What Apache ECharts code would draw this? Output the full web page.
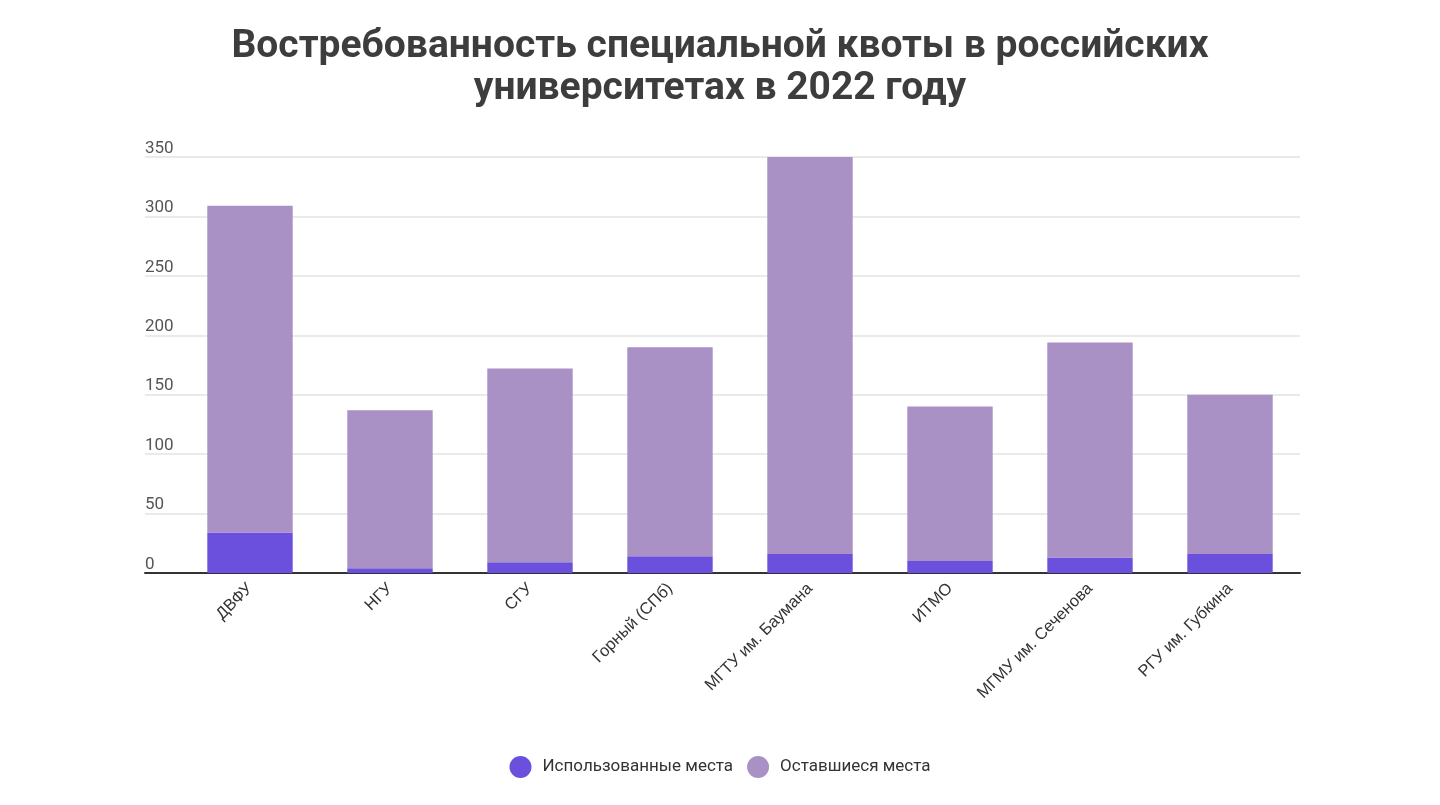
<!DOCTYPE html>
<html>
<head>
<meta charset="utf-8">
<script src="https://cdn.jsdelivr.net/npm/echarts@6/dist/echarts.min.js"></script>
<style>
  html, body { margin: 0; padding: 0; background: #fff; }
  #chart { width: 1440px; height: 805px; }
</style>
</head>
<body>
<div id="chart"></div>
<script>
var universities = ['ДВФУ', 'НГУ', 'СГУ', 'Горный (СПб)', 'МГТУ им. Баумана', 'ИТМО', 'МГМУ им. Сеченова', 'РГУ им. Губкина'];
var totalPlaces = [309, 137, 172, 190, 350, 140, 194, 150];
var usedPlaces = [34, 4, 9, 14, 16, 10, 13, 16];
var leftPlaces = totalPlaces.map(function (t, i) { return t - usedPlaces[i]; });
var yTicks = [0, 50, 100, 150, 200, 250, 300, 350];

var myChart = echarts.init(document.getElementById('chart'));

var option = {
    backgroundColor: '#fff',
    textStyle: { fontFamily: 'Roboto' },
    title: {
        text: 'Востребованность специальной квоты в российских\nуниверситетах в 2022 году',
        left: 'center',
        top: 21,
        textStyle: {
            fontFamily: 'Roboto',
            fontSize: 39,
            fontWeight: 'bold',
            color: '#3d3d3d',
            lineHeight: 42
        }
    },
    legend: {
        bottom: 22,
        left: 'center',
        icon: 'circle',
        itemWidth: 22,
        itemHeight: 22,
        itemGap: 14,
        textStyle: { fontSize: 17, color: '#333', padding: [0, 0, 0, 6] },
        data: ['Использованные места', 'Оставшиеся места']
    },
    grid: [
        // bars
        { left: 180, right: 140, top: 157, bottom: 232 },
        // background grid lines + y labels (wider)
        { left: 145, right: 140, top: 157, bottom: 232 }
    ],
    xAxis: [{
        type: 'category',
        gridIndex: 0,
        data: universities,
        axisLine: { show: false },
        axisTick: { show: false },
        axisLabel: {
            interval: 0,
            rotate: 45,
            margin: 13,
            fontFamily: 'Liberation Sans',
            fontSize: 16.5,
            color: '#333'
        }
    }, {
        type: 'category',
        gridIndex: 1,
        data: [''],
        axisLine: { show: true, lineStyle: { color: '#333', width: 2 } },
        axisTick: { show: false },
        axisLabel: { show: false }
    }],
    yAxis: [{
        type: 'value',
        gridIndex: 0,
        min: 0,
        max: 350,
        interval: 50,
        axisLabel: { show: false },
        axisLine: { show: false },
        axisTick: { show: false },
        splitLine: { show: false }
    }, {
        type: 'value',
        gridIndex: 1,
        min: yTicks[0],
        max: yTicks[yTicks.length - 1],
        interval: 50,
        axisLine: { show: false },
        axisTick: { show: false },
        axisLabel: {
            inside: true,
            margin: 0,
            verticalAlign: 'bottom',
            padding: [0, 0, 0, 0],
            fontSize: 17,
            color: '#555'
        },
        splitLine: { lineStyle: { color: '#e3e3e3', width: 1.5 } }
    }],
    series: [
        {
            name: 'Использованные места',
            type: 'bar',
            stack: 'total',
            xAxisIndex: 0,
            yAxisIndex: 0,
            barWidth: '61%',
            data: usedPlaces,
            itemStyle: { color: '#6a50dc' }
        },
        {
            name: 'Оставшиеся места',
            type: 'bar',
            stack: 'total',
            xAxisIndex: 0,
            yAxisIndex: 0,
            barWidth: '61%',
            data: leftPlaces,
            itemStyle: { color: '#a991c5' }
        }
    ]
};

myChart.setOption(option);
window.addEventListener('resize', function () {
    myChart.resize();
});
</script>
</body>
</html>
